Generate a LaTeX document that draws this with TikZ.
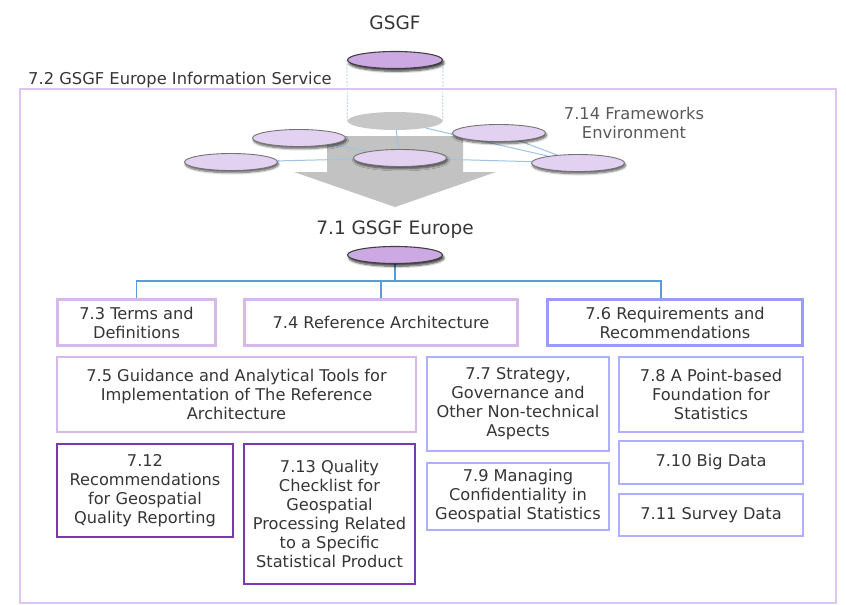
\documentclass[tikz,border=0pt]{standalone}
\usepackage{fontspec}
\setmainfont{DejaVu Sans}
\usetikzlibrary{shapes.geometric,shadows.blur}
\definecolor{txt}{HTML}{363636}
\definecolor{frame}{HTML}{DCC6EE}
\definecolor{lilac}{HTML}{D6B9EA}
\definecolor{periw}{HTML}{9A9AFF}
\definecolor{periwl}{HTML}{AEB0FF}
\definecolor{plum}{HTML}{7A3AAE}
\definecolor{busblue}{HTML}{5B9BD5}
\definecolor{netblue}{HTML}{9DC3E6}
\definecolor{discfill}{HTML}{E2D1F1}
\definecolor{hubfill}{HTML}{CDA9E3}
\definecolor{arrowgray}{HTML}{C2C2C2}
\pgfdeclarelayer{back}
\pgfdeclarelayer{mid}
\pgfsetlayers{back,mid,main}
\tikzset{
  every node/.style={text=txt, font=\fontsize{16.2}{19}\selectfont},
  disc/.style={ellipse, draw=black!55, line width=0.9pt, fill=discfill,
    minimum width=93pt, minimum height=17pt, inner sep=0pt,
    blur shadow={shadow xshift=1pt, shadow yshift=-2.2pt, shadow blur steps=6, shadow opacity=65}},
  hub/.style={ellipse, draw=black!75, line width=1.1pt, fill=hubfill,
    minimum width=95pt, minimum height=17pt, inner sep=0pt,
    blur shadow={shadow xshift=1.5pt, shadow yshift=-2.8pt, shadow blur steps=6, shadow opacity=75}},
  ghost/.style={ellipse, fill=black!22, minimum width=95pt, minimum height=18pt, inner sep=0pt},
  boxbase/.style={rectangle, align=center, inner sep=2pt, fill=white},
  lilacbox/.style={boxbase, draw=lilac, line width=2.6pt},
  lilacthin/.style={boxbase, draw=lilac, line width=1.8pt},
  periwbox/.style={boxbase, draw=periw, line width=2.6pt},
  periwthin/.style={boxbase, draw=periwl, line width=1.8pt},
  plumbox/.style={boxbase, draw=plum, line width=1.8pt},
  title/.style={font=\fontsize{18.5}{22}\selectfont},
  label/.style={font=\fontsize{16.3}{19.5}\selectfont},
  bus/.style={draw=busblue, line width=1.4pt},
  net/.style={draw=netblue, line width=1pt},
  projection/.style={draw=netblue, line width=0.7pt, dash pattern=on 2pt off 1.5pt},
}
\begin{document}
\begin{tikzpicture}[x=1pt, y=-1pt]
\useasboundingbox (0,0) rectangle (846,605);

% caption of the service frame
\node[label, anchor=west, inner sep=0pt] (svc) at (28,80) {7.2 GSGF Europe Information Service};

% global framework disc and its projection
\node[title] (gsgftxt) at (395,23) {GSGF};
\node[ghost] (shadowdisc) at (395,121) {};
\node[hub] (gsgf) at (395,60) {};

% frameworks environment
\node[disc] (f1) at (299,138) {};
\node[disc] (f2) at (231,162) {};
\node[disc] (f3) at (400,158) {};
\node[disc] (f4) at (499,133) {};
\node[disc] (f5) at (578,163) {};
\node[label, text=black!65, align=center] (fwtxt) at (634,123) {7.14 Frameworks\\Environment};

% GSGF Europe hub
\node[title] (eutxt) at (395,230) {7.1 GSGF Europe};
\node[hub] (eu) at (395,255) {};

% chapter boxes
\node[lilacbox, minimum width=158pt, minimum height=46pt] (t73) at (136.5,322.5) {7.3 Terms and\\Definitions};
\node[lilacbox, minimum width=273pt, minimum height=46pt] (t74) at (381,322.5) {7.4 Reference Architecture};
\node[periwbox, minimum width=255pt, minimum height=46pt] (t76) at (675,322.5) {7.6 Requirements and\\Recommendations};
\node[lilacthin, minimum width=359pt, minimum height=75pt] (t75) at (236.5,394.5) {7.5 Guidance and Analytical Tools for\\Implementation of The Reference\\Architecture};
\node[periwthin, minimum width=182pt, minimum height=94pt] (t77) at (518,404) {7.7 Strategy,\\Governance and\\Other Non-technical\\Aspects};
\node[periwthin, minimum width=184pt, minimum height=75pt] (t78) at (711,394.5) {7.8 A Point-based\\Foundation for\\Statistics};
\node[plumbox, minimum width=176pt, minimum height=93pt] (t712) at (145,490.5) {7.12\\Recommendations\\for Geospatial\\Quality Reporting};
\node[plumbox, minimum width=171pt, minimum height=140pt] (t713) at (329.5,514) {7.13 Quality\\Checklist for\\Geospatial\\Processing Related\\to a Specific\\Statistical Product};
\node[periwthin, minimum width=182pt, minimum height=67pt] (t79) at (518,496.5) {7.9 Managing\\Confidentiality in\\Geospatial Statistics};
\node[periwthin, minimum width=184pt, minimum height=43pt] (t710) at (711,462.5) {7.10 Big Data};
\node[periwthin, minimum width=184pt, minimum height=42pt] (t711) at (711,515) {7.11 Survey Data};

% everything below sits behind the nodes
\begin{pgfonlayer}{back}
  \draw[frame, line width=1.5pt] (20,89) rectangle (836,603);
  % big downward arrow
  \fill[arrowgray] (327,136) -- (463,136) -- (463,172) -- (496,172) -- (395,207)
    -- (294,172) -- (327,172) -- cycle;
\end{pgfonlayer}

\coordinate (bus) at (395,281);
\begin{pgfonlayer}{mid}
  \draw[projection] (gsgf.west) -- (shadowdisc.west);
  \draw[projection] (gsgf.east) -- (shadowdisc.east);
  \draw[net] (shadowdisc) -- (f3);
  \draw[net] (shadowdisc) -- (f5);
  \draw[net] (f1) -- (f3);
  \draw[net] (f2) -- (f3);
  \draw[net] (f3) -- (f5);
  \draw[net] (f4) -- (f5);
  % tree from the hub to the top-level chapters
  \draw[bus] (eu.south) -- (bus);
  \draw[bus] (t73.north) |- (bus) -| ([xshift=-14pt]t76.north);
  \draw[bus] (t74.north) -- (t74.north |- bus);
\end{pgfonlayer}
\end{tikzpicture}
\end{document}
